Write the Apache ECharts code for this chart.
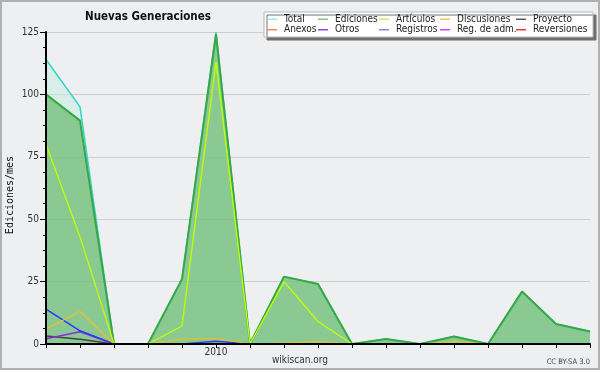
<!DOCTYPE html>
<html>
<head>
<meta charset="utf-8">
<script src="https://cdn.jsdelivr.net/npm/echarts@6/dist/echarts.min.js"></script>
<style>
  html, body { margin: 0; padding: 0; background: #eeeff1; }
  #chart { width: 600px; height: 370px; }
</style>
</head>
<body>
<div id="chart"></div>
<script>
const FONT = '"DejaVu Sans Condensed", "Liberation Sans", sans-serif';

// one point per month, Aug 2009 .. Dec 2010
const months = [
  "2009-08", "2009-09", "2009-10", "2009-11", "2009-12",
  "2010-01", "2010-02", "2010-03", "2010-04", "2010-05", "2010-06",
  "2010-07", "2010-08", "2010-09", "2010-10", "2010-11", "2010-12",
];
const yTicks = [0, 25, 50, 75, 100, 125];

const total       = [114, 95, 0, 0, 26, 125, 0, 27, 24, 0, 2, 0, 3, 0, 21, 8, 5];
const ediciones   = [100, 89.5, 0, 0, 26, 124, 0, 27, 24, 0, 2, 0, 3, 0, 21, 8, 5];
const articulos   = [80, 43, 0, 0, 7.2, 113, 0, 25, 9, 0, 0, 0, 0, 0, 0, 0, 0];
const discusiones = [6, 13, 0, 0, 2, 2.2, 0, 0.4, 1, 0, 0, 0, 1, 0, 0, 0, 0];
const proyecto    = [3.2, 1.9, 0, 0, 0, 0, 0, 0, 0, 0, 0, 0, 0, 0, 0, 0, 0];
const registros   = [14, 5.3, 0, 0, 0, 1.1, 0, 0, 0, 0, 0, 0, 0, 0, 0, 0, 0];
const otros       = [2.1, 4.9, 0, 0, 0, 0, 0, 0, 0, 0, 0, 0, 0, 0, 0, 0, 0];
const anexos      = [];
const regAdm      = [];
const reversiones = [];

const legendCols = [
  ["Total", "Anexos"],
  ["Ediciones", "Otros"],
  ["Artículos", "Registros"],
  ["Discusiones", "Reg. de adm."],
  ["Proyecto", "Reversiones"],
];
const legendLeft = [267, 318, 379, 440, 516];
const legendIcon = {
  "Total": "#a6e4e2", "Anexos": "#f08a50", "Ediciones": "#7cc487", "Otros": "#8a48e0",
  "Artículos": "#c6f060", "Registros": "#8484f0", "Discusiones": "#f6c84a",
  "Reg. de adm.": "#d24ae0", "Proyecto": "#5a5a5a", "Reversiones": "#e63a3a",
};

function lineSeries(name, data, color, width) {
  return {
    name, type: "line", data, symbol: "none", color,
    lineStyle: { color, width },
  };
}

const chart = echarts.init(document.getElementById("chart"));

chart.setOption({
  backgroundColor: "#eeeff1",
  animation: false,
  title: {
    text: "Nuevas Generaciones",
    left: 85, top: 11, padding: 0,
    textStyle: { fontFamily: FONT, fontSize: 11.5, fontWeight: "bold", color: "#111" },
  },
  legend: legendCols.map((col, i) => ({
    orient: "vertical", z: 10,
    left: legendLeft[i], top: 14, padding: 0, itemGap: 0,
    itemWidth: 10, itemHeight: 1.5, icon: "rect",
    data: col.map((n) => ({ name: n, itemStyle: { color: legendIcon[n] } })),
    textStyle: { fontFamily: FONT, fontSize: 10, lineHeight: 10.5, color: "#222", padding: [0, 0, 0, 2] },
    selectedMode: false,
  })),
  grid: { left: 46, right: 10, top: 32, bottom: 26, outerBoundsMode: "none", containLabel: false },
  xAxis: {
    type: "category", data: months, boundaryGap: false, z: 10,
    axisLine: { lineStyle: { color: "#000", width: 2 } },
    axisTick: { show: true, interval: 0, length: 4, lineStyle: { color: "#000" } },
    axisLabel: {
      interval: 0, margin: 3, color: "#333", fontFamily: FONT, fontSize: 10,
      formatter: (v) => (v.endsWith("-01") ? v.slice(0, 4) : ""),
    },
  },
  yAxis: [
    {
      type: "value", position: "left", min: yTicks[0], max: yTicks[yTicks.length - 1], interval: 25,
      axisLine: { show: false }, axisTick: { show: false }, axisLabel: { show: false },
      splitLine: { lineStyle: { color: "#cdcdcd", width: 1 } },
    },
    {
      type: "value", position: "left", offset: 0,
      min: yTicks[0], max: yTicks[yTicks.length - 1], interval: 25, z: 10,
      axisLine: { show: true, lineStyle: { color: "#000", width: 2 } },
      axisTick: { show: true, length: 6, lineStyle: { color: "#000" } },
      minorTick: { show: true, splitNumber: 4, length: 3, lineStyle: { color: "#000" } },
      axisLabel: { margin: 7, color: "#333", fontFamily: FONT, fontSize: 10 },
      splitLine: { show: false },
    },
  ],
  series: [
    Object.assign(lineSeries("Total", total, "#35d3cb", 1.5), {
      areaStyle: { color: "rgba(194,239,225,0.5)", opacity: 1 },
    }),
    Object.assign(lineSeries("Ediciones", ediciones, "#36a845", 2), {
      areaStyle: { color: "rgba(107,185,110,0.7)", opacity: 1 },
    }),
    lineSeries("Anexos", anexos, "#f08a50", 1.2),
    lineSeries("Reg. de adm.", regAdm, "#d24ae0", 1.2),
    lineSeries("Reversiones", reversiones, "#e63a3a", 1.2),
    lineSeries("Proyecto", proyecto, "#444444", 1.5),
    lineSeries("Otros", otros, "#8a2be2", 1.5),
    lineSeries("Registros", registros, "#3038ff", 1.5),
    lineSeries("Discusiones", discusiones, "#f2c01c", 1.2),
    lineSeries("Artículos", articulos, "#c4ff00", 1.3),
  ],
  graphic: [
    {
      type: "rect", z: 1,
      shape: { x: 264, y: 12, width: 329, height: 25 },
      style: {
        fill: "#fff", stroke: "#b8b8b8", lineWidth: 1,
        shadowColor: "#707070", shadowOffsetX: 3, shadowOffsetY: 3, shadowBlur: 0,
      },
    },
    {
      type: "text", x: 10, y: 195, rotation: Math.PI / 2,
      style: {
        text: "Ediciones/mes", fontFamily: '"DejaVu Sans Mono", monospace', fontSize: 10,
        fill: "#111", align: "center", verticalAlign: "middle",
      },
    },
    {
      type: "text", x: 300, y: 360,
      style: {
        text: "wikiscan.org", fontFamily: FONT, fontSize: 10, fill: "#333",
        align: "center", verticalAlign: "middle",
      },
    },
    {
      type: "text", x: 590, y: 362,
      style: {
        text: "CC BY-SA 3.0", fontFamily: FONT, fontSize: 7.5, fill: "#444",
        align: "right", verticalAlign: "middle",
      },
    },
    {
      type: "rect", z: 20, silent: true,
      shape: { x: 1, y: 1, width: 598, height: 368 },
      style: { fill: "none", stroke: "#b0b0b0", lineWidth: 2 },
    },
  ],
});
</script>
</body>
</html>
